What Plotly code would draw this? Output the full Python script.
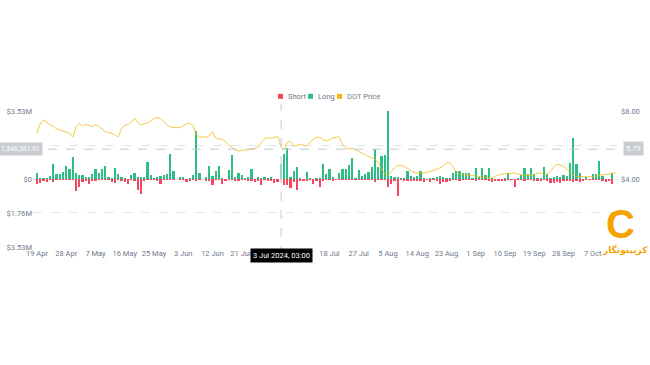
import pandas as pd
import plotly.graph_objects as go

# ---------------- data ----------------
start_date = "2024-04-19"

long_m = [
    0.31, 0.05, 0.07, 0.04, 0.17, 0.76, 0.28, 0.28, 0.36, 0.67,
    0.52, 1.12, 0.29, 0.21, 0.21, 0.10, 0.12, 0.24, 0.52, 0.29,
    0.54, 0.67, 0.10, 0.04, 0.57, 0.28, 0.10, 0.04, 0.00, 0.19,
    0.29, 0.10, 0.09, 0.09, 0.88, 0.19, 0.07, 0.10, 0.16, 0.21,
    0.28, 1.30, 0.42, 0.00, 0.10, 0.09, 0.00, 0.04, 0.21, 2.47,
    0.31, 0.00, 0.10, 0.66, 0.14, 0.42, 0.67, 0.07, 0.00, 0.48,
    1.23, 0.12, 0.31, 0.19, 0.07, 0.09, 0.50, 0.00, 0.10, 0.07,
    0.10, 0.07, 0.09, 0.00, 0.00, 0.80, 1.30, 1.63, 0.10, 0.40,
    0.60, 0.05, 0.00, 0.36, 0.07, 0.00, 0.05, 0.07, 0.76, 0.28,
    0.52, 0.12, 0.02, 0.29, 0.54, 0.54, 0.73, 1.09, 0.04, 0.45,
    0.15, 0.25, 0.38, 0.64, 1.54, 0.60, 1.22, 1.25, 3.52, 0.17,
    0.10, 0.10, 0.07, 0.05, 0.42, 0.17, 0.12, 0.17, 0.42, 0.07,
    0.00, 0.03, 0.07, 0.10, 0.17, 0.10, 0.03, 0.07, 0.29, 0.42,
    0.43, 0.33, 0.29, 0.31, 0.07, 0.55, 0.12, 0.57, 0.21, 0.59,
    0.07, 0.00, 0.00, 0.00, 0.07, 0.29, 0.00, 0.00, 0.03, 0.21,
    0.59, 0.24, 0.59, 0.24, 0.07, 0.07, 0.62, 0.24, 0.07, 0.12,
    0.14, 0.10, 0.21, 0.17, 0.83, 2.13, 0.80, 0.30, 0.00, 0.10,
    0.00, 0.24, 0.24, 0.93, 0.17, 0.02, 0.00, 0.31, 0.00,
]

short_m = [
    -0.26, -0.19, -0.09, -0.14, -0.05, -0.16, -0.03, -0.03, -0.03, -0.03,
    -0.03, -0.05, -0.62, -0.41, -0.14, -0.10, -0.24, -0.10, -0.09, -0.03,
    -0.03, -0.07, -0.03, -0.14, -0.19, -0.07, -0.12, -0.14, -0.24, -0.05,
    -0.09, -0.59, -0.76, -0.09, -0.03, -0.05, -0.07, -0.12, -0.26, -0.03,
    -0.03, -0.03, -0.05, 0.00, -0.05, -0.03, -0.14, -0.12, -0.05, -0.09,
    -0.03, 0.00, -0.09, -0.09, -0.29, -0.05, -0.05, -0.24, -0.09, -0.05,
    -0.07, -0.09, -0.09, -0.03, -0.05, -0.09, -0.09, -0.14, -0.09, -0.31,
    -0.07, -0.12, -0.10, -0.21, -0.16, -0.05, -0.31, -0.31, -0.48, -0.14,
    -0.55, -0.09, -0.09, -0.09, -0.05, -0.24, -0.09, -0.43, -0.12, -0.05,
    -0.05, -0.10, -0.07, -0.03, -0.03, -0.03, -0.03, -0.03, -0.05, -0.03,
    -0.03, -0.03, -0.03, -0.05, -0.14, -0.03, -0.03, -0.03, -0.43, -0.28,
    -0.10, -0.88, -0.05, -0.09, -0.09, -0.09, -0.09, -0.09, -0.09, -0.14,
    -0.05, -0.17, -0.05, -0.09, -0.24, -0.14, -0.17, -0.10, -0.03, -0.03,
    -0.09, -0.03, -0.03, -0.03, -0.05, -0.09, -0.07, -0.03, -0.03, -0.09,
    -0.14, -0.09, -0.09, -0.10, -0.09, -0.03, -0.03, -0.41, -0.03, -0.03,
    -0.09, -0.03, -0.03, -0.09, -0.10, -0.09, -0.03, -0.09, -0.22, -0.22,
    -0.17, -0.19, -0.09, -0.10, -0.09, -0.14, -0.10, -0.14, -0.10, -0.07,
    -0.03, -0.03, -0.05, -0.07, -0.09, -0.14, -0.12, -0.25, 0.00,
]

dot_price = [
    6.69, 7.25, 7.45, 7.35, 7.20, 7.10, 6.95, 6.90, 6.82, 6.76,
    6.70, 6.47, 7.05, 7.25, 7.12, 7.20, 7.15, 7.08, 7.20, 7.10,
    6.95, 6.78, 6.73, 6.69, 6.59, 6.49, 6.98, 7.15, 7.20, 7.35,
    7.57, 7.33, 7.20, 7.25, 7.30, 7.42, 7.55, 7.62, 7.55, 7.38,
    7.20, 7.06, 7.04, 7.03, 7.02, 7.14, 7.24, 7.27, 7.14, 6.60,
    6.45, 6.49, 6.45, 6.55, 6.77, 6.41, 6.37, 6.33, 6.20, 6.00,
    5.85, 5.72, 5.65, 5.68, 5.70, 5.72, 5.77, 5.80, 5.85, 6.15,
    6.36, 6.42, 6.40, 6.45, 6.49, 5.95, 5.72, 6.15, 6.22, 5.95,
    5.97, 6.05, 6.00, 5.95, 6.15, 6.33, 6.45, 6.45, 6.33, 6.24,
    6.30, 6.42, 6.45, 6.47, 6.05, 5.82, 5.78, 5.80, 5.72, 5.62,
    5.52, 5.43, 5.33, 5.25, 5.18, 4.95, 4.60, 4.30, 4.22, 4.42,
    4.65, 4.80, 4.80, 4.74, 4.62, 4.50, 4.40, 4.35, 4.36, 4.34,
    4.40, 4.45, 4.50, 4.57, 4.66, 4.76, 4.92, 4.95, 4.72, 4.45,
    4.30, 4.26, 4.26, 4.22, 4.21, 4.18, 4.15, 4.10, 4.10, 4.04,
    4.06, 4.17, 4.24, 4.28, 4.30, 4.30, 4.33, 4.35, 4.30, 4.25,
    4.22, 4.20, 4.20, 4.27, 4.35, 4.35, 4.25, 4.30, 4.45, 4.70,
    4.85, 4.84, 4.74, 4.60, 4.38, 4.22, 4.16, 4.14, 4.14, 4.16,
    4.13, 4.14, 4.17, 4.22, 4.26, 4.26, 4.30, 4.33, 4.36,
]

x_tick_dates = ["2024-04-19", "2024-04-28", "2024-05-07", "2024-05-16", "2024-05-25",
                "2024-06-03", "2024-06-12", "2024-06-21", "2024-07-18", "2024-07-27",
                "2024-08-05", "2024-08-14", "2024-08-23", "2024-09-01", "2024-09-10",
                "2024-09-19", "2024-09-28", "2024-10-07"]
x_tick_labels = ["19 Apr", "28 Apr", "7 May", "16 May", "25 May", "3 Jun", "12 Jun",
                 "21 Jun", "18 Jul", "27 Jul", "5 Aug", "14 Aug", "23 Aug", "1 Sep",
                 "10 Sep", "19 Sep", "28 Sep", "7 Oct"]

# the upper "$1.76M" label is hidden under the crosshair value box in the reference
y_tick_vals = [-3.53e6, -1.76e6, 0, 1.76e6, 3.53e6]
y_tick_labels = ["$3.53M", "$1.76M", "$0", "", "$3.53M"]
y2_tick_vals = [4, 8]
y2_tick_labels = ["$4.00", "$8.00"]

hover_time = "2024-07-03 03:00"
hover_index = 75
hover_value = 1546361.61
hover_value_text = "1,546,361.61"
hover_price_text = "5.79"
hover_price = 5.79
hover_time_text = "3 Jul 2024, 03:00"

# ---------------- figure ----------------
dates = pd.date_range(start_date, periods=len(long_m), freq="D")
long_vals = [v * 1e6 for v in long_m]
short_vals = [v * 1e6 for v in short_m]

GREEN = "#2EBD85"
RED = "#F6465D"
YELLOW = "#F0B90B"
TXT = "#707A8A"
FONT = "Roboto"

long_colors = [("rgba(46,189,133,0.55)" if i == hover_index else GREEN) for i in range(len(long_m))]
short_colors = [("rgba(246,70,93,0.55)" if i == hover_index else RED) for i in range(len(short_m))]
bar_w = 0.72 * 86400000

fig = go.Figure()
fig.add_trace(go.Bar(x=dates, y=long_vals, name="Long", width=bar_w,
                     marker=dict(color=long_colors, line=dict(width=0)), showlegend=False))
fig.add_trace(go.Bar(x=dates, y=short_vals, name="Short", width=bar_w,
                     marker=dict(color=short_colors, line=dict(width=0)), showlegend=False))
fig.add_trace(go.Scatter(x=dates, y=dot_price, name="DOT Price", yaxis="y2", mode="lines",
                         line=dict(color=YELLOW, width=1, shape="spline", smoothing=0.6),
                         opacity=0.8, showlegend=False))

# plot-area pixel geometry
L, R, T, B = 33, 620, 111, 247
W, H = 650, 365


def px(xpix):
    return (xpix - L) / (R - L)


def py(ypix):
    return (B - ypix) / (B - T)


shapes = []
annotations = []

# custom legend
legend_items = [("Short", RED, 278, 286), ("Long", GREEN, 308, 316), ("DOT Price", YELLOW, 337, 345)]
for name, col, sx, tx in legend_items:
    shapes.append(dict(type="rect", xref="paper", yref="paper",
                       x0=px(sx), x1=px(sx + 5), y0=py(98.8), y1=py(93.8),
                       fillcolor=col, line=dict(width=0)))
    annotations.append(dict(text=name, xref="paper", yref="paper", x=px(tx), y=py(96.5),
                            xanchor="left", yanchor="middle", showarrow=False,
                            font=dict(size=7.5, color=TXT, family=FONT)))

# crosshair
shapes.append(dict(type="line", xref="x", yref="paper", x0=hover_time, x1=hover_time,
                   y0=py(255), y1=py(104), line=dict(color="#C3C7CE", width=1, dash="dash")))
shapes.append(dict(type="line", xref="paper", yref="y", x0=px(30), x1=px(622),
                   y0=hover_value, y1=hover_value, line=dict(color="#C3C7CE", width=1, dash="dash")))

annotations.append(dict(text=hover_value_text, xref="paper", yref="y", x=px(43), y=hover_value,
                        xanchor="right", yanchor="middle", showarrow=False, bgcolor="#C9CCD1",
                        borderpad=2, font=dict(size=6.8, color="white", family=FONT)))
annotations.append(dict(text=hover_price_text, xref="paper", yref="y2", x=px(623), y=hover_price,
                        xanchor="left", yanchor="middle", showarrow=False, bgcolor="#C9CCD1",
                        borderpad=2, font=dict(size=7.5, color="white", family=FONT)))
annotations.append(dict(text=hover_time_text, xref="x", yref="paper", x=hover_time, y=py(248),
                        xanchor="center", yanchor="top", showarrow=False, bgcolor="#000000",
                        borderpad=2, font=dict(size=7.5, color="white", family=FONT)))

# watermark logo
annotations.append(dict(text="<b>C</b>", xref="paper", yref="paper", x=px(621), y=py(224),
                        xanchor="center", yanchor="middle", showarrow=False,
                        font=dict(size=40, color="#F5A300", family="Liberation Sans")))
annotations.append(dict(text="<b>کریپتونگار</b>", xref="paper", yref="paper", x=px(625), y=py(250),
                        xanchor="center", yanchor="middle", showarrow=False,
                        font=dict(size=9, color="#F5A300", family="DejaVu Sans")))

axis_font = dict(size=7.5, color=TXT, family=FONT)
fig.update_layout(
    width=W, height=H,
    margin=dict(l=L, r=W - R, t=T, b=H - B, pad=0, autoexpand=False),
    paper_bgcolor="white", plot_bgcolor="white",
    barmode="relative", bargap=0,
    hovermode=False,
    showlegend=False,
    font=dict(family=FONT, size=7.5, color=TXT),
    xaxis=dict(type="date", range=["2024-04-17 18:30", "2024-10-15 09:30"],
               tickvals=x_tick_dates, ticktext=x_tick_labels, showgrid=False,
               zeroline=False, showline=False, ticks="", automargin=False,
               tickfont=axis_font),
    yaxis=dict(range=[-3.53e6, 3.53e6], tickvals=y_tick_vals, ticktext=y_tick_labels,
               showgrid=True, gridcolor="#E4E6EA", griddash="dash", gridwidth=1,
               zeroline=False, showline=False, ticks="", automargin=False,
               tickfont=axis_font),
    yaxis2=dict(range=[0, 8], overlaying="y", side="right", tickvals=y2_tick_vals,
                ticktext=y2_tick_labels, showgrid=False, zeroline=False, showline=False,
                ticks="", automargin=False, tickfont=axis_font),
    shapes=shapes,
    annotations=annotations,
)

fig.write_html("out.html", config={"displayModeBar": False, "staticPlot": True},
               post_script="document.body.style.margin='0';document.body.style.overflow='hidden';")
